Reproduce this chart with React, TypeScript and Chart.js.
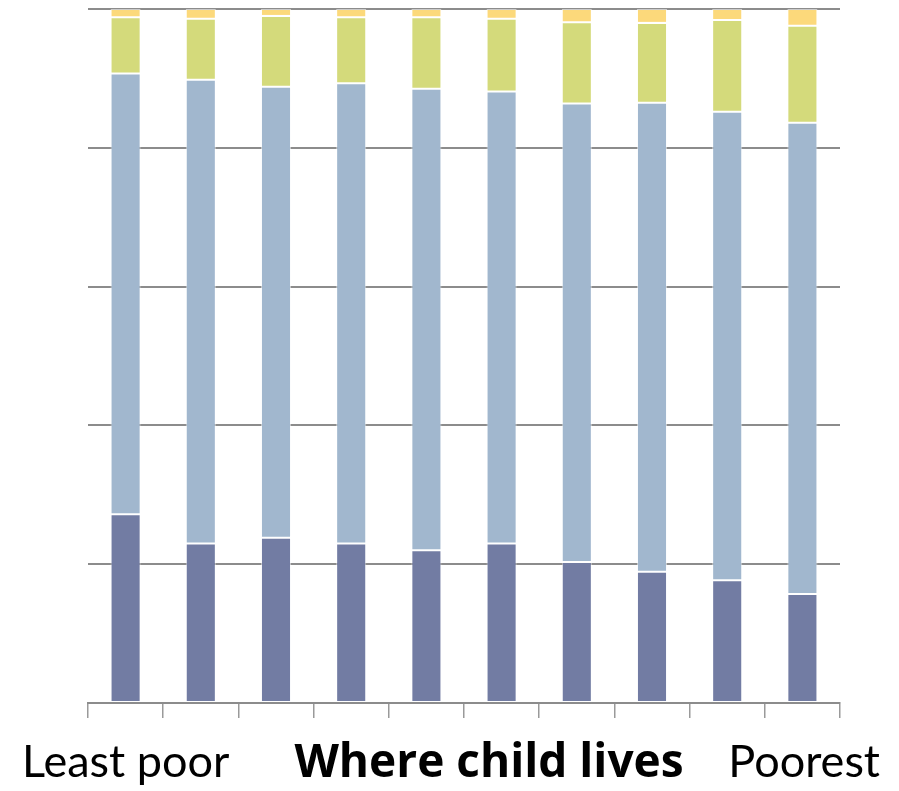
import React, { useEffect, useRef } from "react";
import { Chart, registerables } from "chart.js";

Chart.register(...registerables);

// Ten areas, ordered from least poor to poorest
const categories = ["1", "2", "3", "4", "5", "6", "7", "8", "9", "10"];

// Percentage shares per area (stacked to 100)
const seriesA = [27.2, 23.0, 23.8, 23.0, 22.0, 23.0, 20.3, 18.9, 17.7, 15.7];
const seriesB = [63.5, 66.8, 65.0, 66.3, 66.5, 65.1, 66.1, 67.6, 67.5, 67.9];
const seriesC = [8.1, 8.8, 10.2, 9.5, 10.3, 10.5, 11.7, 11.5, 13.2, 14.0];
const seriesD = [1.2, 1.4, 1.0, 1.2, 1.2, 1.4, 1.9, 2.0, 1.6, 2.4];

const yTicks = [0, 20, 40, 60, 80, 100];

const leftLabel = "Least poor";
const axisTitle = "Where child lives";
const rightLabel = "Poorest";

const FONT = "Lato, 'Open Sans', 'DejaVu Sans', sans-serif";
const BOLD_FONT = "'Open Sans', Lato, 'DejaVu Sans', sans-serif";

const bottomLabels = {
  id: "bottomLabels",
  afterDraw(chart: Chart) {
    const { ctx, width } = chart;
    const baseline = 777;
    ctx.save();
    ctx.fillStyle = "#000";
    ctx.textBaseline = "alphabetic";
    ctx.font = `45px ${FONT}`;
    ctx.textAlign = "left";
    ctx.fillText(leftLabel, 22, baseline);
    ctx.textAlign = "right";
    ctx.fillText(rightLabel, width - 19, baseline);
    ctx.font = `bold 46px ${BOLD_FONT}`;
    ctx.textAlign = "center";
    ctx.fillText(axisTitle, 489, baseline);
    ctx.restore();
  },
};

export default function App() {
  const canvasRef = useRef<HTMLCanvasElement | null>(null);

  useEffect(() => {
    document.body.style.margin = "0";
    if (!canvasRef.current) return;
    const edge = "rgba(255,255,255,0.55)";
    const mk = (label: string, data: number[], color: string) => ({
      label,
      data,
      backgroundColor: color,
      borderColor: edge,
      borderWidth: 1,
      borderSkipped: false as const,
      categoryPercentage: 1,
      barPercentage: 0.4,
    });
    const chart = new Chart(canvasRef.current, {
      type: "bar",
      data: {
        labels: categories,
        datasets: [
          mk("A", seriesA, "#727ca3"),
          mk("B", seriesB, "#a1b7ce"),
          mk("C", seriesC, "#d4da7b"),
          mk("D", seriesD, "#fcd97b"),
        ],
      },
      options: {
        animation: false,
        responsive: true,
        maintainAspectRatio: false,
        layout: { padding: { left: 88, right: 59, top: 9, bottom: 73 } },
        plugins: {
          legend: { display: false },
          tooltip: { enabled: false },
        },
        scales: {
          x: {
            stacked: true,
            ticks: { display: false },
            grid: {
              offset: true,
              drawOnChartArea: false,
              drawTicks: true,
              tickLength: 15,
              color: "#9a9a9a",
              lineWidth: 1.5,
            },
            border: { display: true, color: "#8c8c8c", width: 2 },
          },
          y: {
            stacked: true,
            min: yTicks[0],
            max: yTicks[yTicks.length - 1],
            afterBuildTicks: (scale: any) => {
              scale.ticks = yTicks.map((v) => ({ value: v }));
            },
            ticks: { display: false },
            grid: {
              drawTicks: false,
              color: "#8c8c8c",
              lineWidth: 2,
            },
            border: { display: false },
          },
        },
      },
      plugins: [bottomLabels],
    });
    return () => chart.destroy();
  }, []);

  return (
    <div style={{ width: 899, height: 791, position: "relative" }}>
      <canvas ref={canvasRef} />
    </div>
  );
}
